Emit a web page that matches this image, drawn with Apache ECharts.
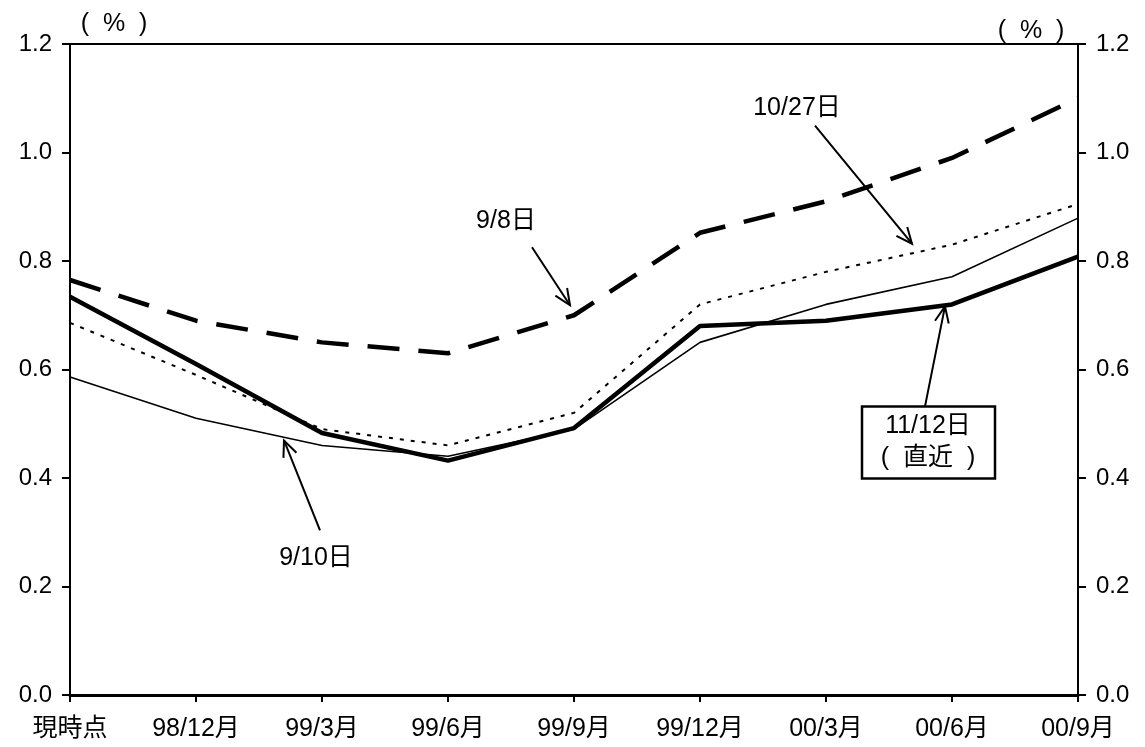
<!DOCTYPE html>
<html><head><meta charset="utf-8">
<script src="https://cdn.jsdelivr.net/npm/echarts@6/dist/echarts.min.js"></script>
<style>html,body{margin:0;padding:0;background:#fff}#c{width:1145px;height:747px}</style>
</head><body><div id="c"></div>
<script>
const categories = ['現時点','98/12月','99/3月','99/6月','99/9月','99/12月','00/3月','00/6月','00/9月'];
const s0908 = [0.765,0.69,0.65,0.63,0.70,0.852,0.91,0.99,1.10];
const s1027 = [0.686,0.59,0.49,0.46,0.52,0.72,0.78,0.83,0.905];
const s0910 = [0.586,0.51,0.46,0.44,0.49,0.65,0.72,0.771,0.879];
const s1112 = [0.734,0.61,0.483,0.432,0.492,0.68,0.69,0.72,0.808];
const yTicks = [0.0,0.2,0.4,0.6,0.8,1.0,1.2];

const FONT = '"Liberation Sans", "Noto Sans CJK JP", sans-serif';
const FS = 25;
const chart = echarts.init(document.getElementById('c'), null, {renderer:'canvas'});
const yAxisBase = (pos) => ({
  type:'value', min:0, max:1.2, interval:0.2, position:pos,
  axisLine:{show:true, lineStyle:{color:'#000', width:2}},
  axisTick:{show:true, length:8, lineStyle:{color:'#000', width:2}},
  axisLabel:{color:'#000', fontSize:24, fontFamily:FONT, margin:18, formatter:v=>v.toFixed(1)},
  splitLine:{show:false}
});
const option = {
  animation:false,
  backgroundColor:'#fff',
  grid:{left:70, right:67, top:44, bottom:52, show:true, borderColor:'#000', borderWidth:2},
  xAxis:{type:'category', data:categories, boundaryGap:false,
    axisLine:{lineStyle:{color:'#000', width:3}},
    axisTick:{show:true, length:7, alignWithLabel:true, lineStyle:{color:'#000', width:2}},
    axisLabel:{color:'#000', fontSize:FS, fontFamily:FONT, margin:22, interval:0}},
  yAxis:[yAxisBase('left'), yAxisBase('right')],
  series:[
    {name:'9/10日', type:'line', data:s0910, symbol:'none', lineStyle:{color:'#000', width:1.6}},
    {name:'10/27日', type:'line', data:s1027, symbol:'none', lineStyle:{color:'#000', width:2, type:[4,7]}},
    {name:'9/8日', type:'line', data:s0908, symbol:'none', lineStyle:{color:'#000', width:4.5, type:[32,19]}},
    {name:'11/12日', type:'line', data:s1112, symbol:'none', lineStyle:{color:'#000', width:4.5}}
  ]
};
chart.setOption(option);

function px(i, v){ return chart.convertToPixel({xAxisIndex:0, yAxisIndex:0}, [i, v]); }
function arrow(tail, tip){
  const dx = tip[0]-tail[0], dy = tip[1]-tail[1];
  const L = Math.hypot(dx,dy), ux = dx/L, uy = dy/L;
  const h = 16, w = 7;
  const b = [tip[0]-ux*h, tip[1]-uy*h];
  const p1 = [b[0]-uy*w, b[1]+ux*w], p2 = [b[0]+uy*w, b[1]-ux*w];
  return [
    {type:'line', shape:{x1:tail[0],y1:tail[1],x2:tip[0],y2:tip[1]}, style:{stroke:'#000', lineWidth:2}, z:100},
    {type:'polyline', shape:{points:[p1, tip, p2]}, style:{stroke:'#000', lineWidth:2, fill:null}, z:100}
  ];
}
function txt(x, y, t){
  return {type:'text', x:x, y:y, style:{text:t, fill:'#000', font:FS+'px '+FONT, align:'center', verticalAlign:'middle'}, z:100};
}
const a98 = px(4, s0908[4]);
const a1027 = px(7, s1027[7]);
const a910 = px(2, s0910[2]);
const a1112 = px(7, s1112[7]);

let els = [];
els.push(txt(114, 24, '(  %  )'));
els.push(txt(1031, 31, '(  %  )'));
els.push(txt(a98[0]-68, a98[1]-94, '9/8日'));
els = els.concat(arrow([a98[0]-42, a98[1]-68], [a98[0]-4, a98[1]-10]));
els.push(txt(a1027[0]-155, a1027[1]-137, '10/27日'));
els = els.concat(arrow([a1027[0]-137, a1027[1]-119], [a1027[0]-40, a1027[1]-1]));
els.push(txt(a910[0]-6, a910[1]+113, '9/10日'));
els = els.concat(arrow([a910[0]-2, a910[1]+85], [a910[0]-38, a910[1]-5]));
const bx = a1112[0]-90, by = a1112[1]+102;
els.push({type:'rect', shape:{x:bx, y:by, width:133, height:72}, style:{stroke:'#000', lineWidth:2.5, fill:'#fff'}, z:99});
els.push(txt(bx+66, by+20, '11/12日'));
els.push(txt(bx+66, by+52, '(  直近  )'));
els = els.concat(arrow([a1112[0]-27, by], [a1112[0]-7, a1112[1]+2]));
chart.setOption({graphic:{elements:els}});
</script></body></html>
